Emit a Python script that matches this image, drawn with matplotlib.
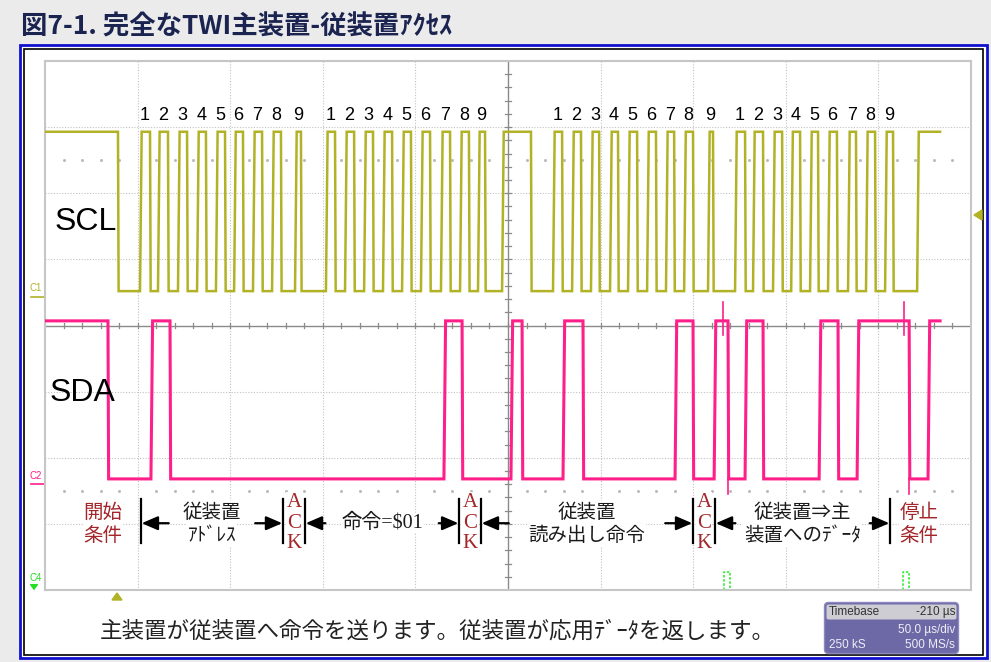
import matplotlib
matplotlib.use("Agg")
import matplotlib.pyplot as plt
from matplotlib.patches import Rectangle, FancyBboxPatch, Polygon

plt.rcParams['font.family'] = ['Noto Sans CJK JP', 'DejaVu Sans']

# ---------------------------------------------------------------- data
# Screen: 10 div x 50 us/div, time in us from left edge of screen
T_END = 483.3                       # last acquired sample shown

# trace levels in divisions (0 = bottom of graticule, 8 = top)
SCL_HI, SCL_LO = 6.93, 4.52
SDA_HI, SDA_LO = 4.07, 1.68

SCL_START_FALL = 39.4               # start condition: SCL falls after SDA

# SCL clock pulses (rise, fall) in us for the four 9-bit frames
scl_rise_addr = [51.3, 61.0, 71.8, 82.1, 92.3, 102.1, 112.3, 122.6, 135.0]
scl_fall_addr = [56.7, 66.4, 76.7, 86.9, 97.2, 106.9, 117.2, 127.4, 138.2]
scl_rise_cmd = [151.7, 162.0, 172.3, 182.5, 192.8, 203.0, 213.8, 224.1, 233.8]
scl_fall_cmd = [156.6, 166.9, 177.1, 187.4, 197.6, 207.9, 218.7, 228.9, 237.6]
scl_restart = (246.8, 262.4)        # SCL high during repeated start
scl_rise_rd = [274.3, 284.6, 294.8, 305.1, 314.8, 325.1, 335.3, 345.1, 358.0]
scl_fall_rd = [279.2, 289.4, 299.2, 309.4, 319.7, 329.9, 339.7, 349.9, 360.7]
scl_rise_data = [372.6, 382.3, 393.1, 402.9, 413.1, 422.8, 433.6, 443.3, 453.6]
scl_fall_data = [378.0, 387.7, 398.0, 407.7, 417.4, 427.6, 437.9, 448.2, 457.9]
SCL_STOP_RISE = 470.9

# SDA edges in us, alternating fall / rise, starting from high
sda_edges = [34.0, 57.2, 67.5, 215.4, 225.2, 251.6, 257.6, 279.7,
             290.5, 340.2, 349.9, 361.3, 368.8, 378.0, 387.7, 418.0,
             428.2, 438.5, 466.6, 476.8]
# short glitches on SDA: (time us, bottom div, top div)
sda_spikes = [(366.1, 3.85, 4.35), (368.9, 1.45, 1.7),
              (463.8, 3.85, 4.35), (466.7, 1.45, 1.7)]

pulse_labels = ['1', '2', '3', '4', '5', '6', '7', '8', '9']

# annotation bar positions (us) and the spans between them
bars = [51.8, 128.5, 140.4, 223.6, 235.4, 349.9, 361.8, 456.3]
spans = [(51.8, 128.5, '従装置', 'ｱﾄﾞﾚｽ', 15.0),
         (140.4, 223.6, '命令=$01', None, 11.0),
         (235.4, 349.9, '従装置', '読み出し命令', 15.0),
         (361.8, 456.3, '従装置⇒主', '装置へのﾃﾞｰﾀ', 11.0)]
ack_spans = [(128.5, 140.4), (223.6, 235.4), (349.9, 361.8)]
start_label = (31.3, '開始', '条件')
stop_label = (471.9, '停止', '条件')

TITLE = '図7-1. 完全なTWI主装置-従装置ｱｸｾｽ'
CAPTION = '主装置が従装置へ命令を送ります。従装置が応用ﾃﾞｰﾀを返します。'
TIMEBASE = ('Timebase', '-210 µs', '50.0 µs/div', '250 kS', '500 MS/s')

# ---------------------------------------------------------------- style
SCL_COLOR = '#b2b226'
SDA_COLOR = '#ff1f8a'
RED_TXT = '#a3262a'
GRID_C = '#c2c2c2'
AXIS_C = '#8a8a8a'

W, H = 991, 662
fig = plt.figure(figsize=(W / 100, H / 100), dpi=100)
fig.patch.set_facecolor('#ebebeb')

# pixel-space layer for frames and screen furniture
ov = fig.add_axes([0, 0, 1, 1], zorder=0)
ov.set_xlim(0, W)
ov.set_ylim(H, 0)
ov.axis('off')

ov.add_patch(Rectangle((20, 45), 967, 613, facecolor='white',
                       edgecolor='#1010d0', lw=2.0))
ov.add_patch(Rectangle((24, 49), 959, 606, facecolor='none',
                       edgecolor='black', lw=1.2))

ov.text(21, 27, TITLE, ha='left', va='center', fontsize=19,
        fontweight='bold', color='#1b2450')

# channel markers
ov.text(36, 288, 'C1', ha='center', va='center', fontsize=7,
        color=SCL_COLOR, family=['Liberation Sans'])
ov.plot([31, 44], [297, 297], color=SCL_COLOR, lw=1.2)
ov.text(36, 476, 'C2', ha='center', va='center', fontsize=7,
        color=SDA_COLOR, family=['Liberation Sans'])
ov.plot([31, 44], [484, 484], color=SDA_COLOR, lw=1.2)
ov.text(36, 578, 'C4', ha='center', va='center', fontsize=7,
        color='#22dd22', family=['Liberation Sans'])
ov.annotate('', xy=(34, 593), xytext=(34, 584),
            arrowprops=dict(arrowstyle='-|>,head_length=0.4,head_width=0.3',
                            color='#22dd22', lw=1.0, mutation_scale=8))

# trigger markers
ov.add_patch(Polygon([[974, 215], [982, 210], [982, 220]], closed=True,
                     color=SCL_COLOR))
ov.add_patch(Polygon([[117, 593], [112, 600], [122, 600]], closed=True,
                     color=SCL_COLOR))

# C4 digital markers
for cx in (727, 906):
    ov.plot([cx - 3, cx - 3, cx + 3, cx + 3], [590, 572, 572, 590],
            color='#33ee33', lw=1.2, ls=(0, (1.5, 1.0)))

ov.text(437, 631, CAPTION, ha='center', va='center', fontsize=16.2,
        color='#222222')

# timebase box
ov.add_patch(FancyBboxPatch((826, 604), 131, 48,
                            boxstyle='round,pad=1.5,rounding_size=4',
                            facecolor='#6d69a7', edgecolor='#8c88c0', lw=1))
ov.add_patch(FancyBboxPatch((827, 605), 129, 14,
                            boxstyle='round,pad=0.5,rounding_size=2',
                            facecolor='#cdcdd3', edgecolor='none'))
tb_font = dict(fontsize=8.5, family=['Liberation Sans', 'DejaVu Sans'])
ov.text(829, 612, TIMEBASE[0], ha='left', va='center', color='#333333', **tb_font)
ov.text(955, 612, TIMEBASE[1], ha='right', va='center', color='#333333', **tb_font)
ov.text(955, 630, TIMEBASE[2], ha='right', va='center', color='#eeeef6', **tb_font)
ov.text(829, 645, TIMEBASE[3], ha='left', va='center', color='#eeeef6', **tb_font)
ov.text(955, 645, TIMEBASE[4], ha='right', va='center', color='#eeeef6', **tb_font)

# ---------------------------------------------------------------- scope screen
gx0, gy0, gx1, gy1 = 45, 61, 971, 590
ax = fig.add_axes([gx0 / W, 1 - gy1 / H, (gx1 - gx0) / W, (gy1 - gy0) / H],
                  zorder=1)
ax.set_facecolor('none')
ax.set_xlim(0, 500)
ax.set_ylim(0, 8)
ax.set_xticks([])
ax.set_yticks([])
for s in ax.spines.values():
    s.set_color('#c6c6c6')
    s.set_linewidth(1.5)

dotted = dict(color=GRID_C, lw=0.8, ls=(0, (1, 1.5)), zorder=1)
for i in range(1, 10):
    if i != 5:
        ax.axvline(50 * i, **dotted)
for j in range(1, 8):
    if j != 4:
        ax.axhline(j, **dotted)
ax.axvline(250, color=AXIS_C, lw=1.0, zorder=1)
ax.axhline(4, color=AXIS_C, lw=1.0, zorder=1)
for k in range(1, 50):
    ax.plot([10 * k, 10 * k], [3.955, 4.045], color=AXIS_C, lw=0.9, zorder=1)
for k in range(1, 40):
    ax.plot([248.4, 251.6], [0.2 * k, 0.2 * k], color=AXIS_C, lw=0.9, zorder=1)
for yrow in (6.5, 1.5):
    xs = [10 * k for k in range(1, 50) if k % 5]
    ax.plot(xs, [yrow] * len(xs), ls='none', marker='s', ms=1.0,
            color='#b8b8b8', zorder=1)


def square_wave(edges, hi, lo, start_high=True, t_end=T_END,
                tr=0.9, tf=0.35):
    xs, ys = [0.0], [hi if start_high else lo]
    high = start_high
    for e in edges:
        if high:
            xs += [e, e + tf]
            ys += [hi, lo]
        else:
            xs += [e, e + tr]
            ys += [lo, hi]
        high = not high
    xs.append(t_end)
    ys.append(hi if high else lo)
    return xs, ys


scl_edges = [SCL_START_FALL]
for r, f in zip(scl_rise_addr + scl_rise_cmd, scl_fall_addr + scl_fall_cmd):
    scl_edges += [r, f]
scl_edges += list(scl_restart)
for r, f in zip(scl_rise_rd + scl_rise_data, scl_fall_rd + scl_fall_data):
    scl_edges += [r, f]
scl_edges.append(SCL_STOP_RISE)

x, y = square_wave(scl_edges, SCL_HI, SCL_LO)
ax.plot(x, y, color=SCL_COLOR, lw=1.8, zorder=3, solid_joinstyle='miter')
x, y = square_wave(sda_edges, SDA_HI, SDA_LO)
ax.plot(x, y, color=SDA_COLOR, lw=2.2, zorder=4, solid_joinstyle='miter')
for t, y0, y1 in sda_spikes:
    ax.plot([t, t], [y0, y1], color=SDA_COLOR, lw=1.2, zorder=4)

# bit numbers above each clock pulse
for rises, falls in ((scl_rise_addr, scl_fall_addr), (scl_rise_cmd, scl_fall_cmd),
                     (scl_rise_rd, scl_fall_rd), (scl_rise_data, scl_fall_data)):
    for lab, r, f in zip(pulse_labels, rises, falls):
        ax.text((r + f) / 2, 7.18, lab, ha='center', va='center', fontsize=13,
                family=['Liberation Sans'], color='black', zorder=5)

ax.text(5.4, 5.57, 'SCL', ha='left', va='center', fontsize=23,
        family=['Liberation Sans'], color='black', zorder=5)
ax.text(2.7, 2.98, 'SDA', ha='left', va='center', fontsize=23,
        family=['Liberation Sans'], color='black', zorder=5)

# protocol annotations
BAR_LO, BAR_HI, ARROW_Y = 0.71, 1.376, 1.01
LINE1, LINE2 = 1.17, 0.82
for b in bars:
    ax.plot([b, b], [BAR_LO, BAR_HI], color='black', lw=1.6, zorder=5)

arrow_style = dict(arrowstyle='-|>,head_length=0.65,head_width=0.28',
                   color='black', lw=1.6, mutation_scale=15,
                   shrinkA=0, shrinkB=0)
white = dict(facecolor='white', edgecolor='none', pad=0.5)
span_family = ['Liberation Serif', 'Noto Sans CJK JP']
for x0, x1, l1, l2, alen in spans:
    ax.annotate('', xy=(x0 + 0.4, ARROW_Y), xytext=(x0 + alen, ARROW_Y),
                arrowprops=arrow_style, zorder=5)
    ax.annotate('', xy=(x1 - 0.4, ARROW_Y), xytext=(x1 - alen, ARROW_Y),
                arrowprops=arrow_style, zorder=5)
    xc = (x0 + x1) / 2
    if l2 is None:
        ax.text(xc, ARROW_Y, l1, ha='center', va='center', fontsize=14.5,
                color='#1a1a1a', zorder=5, bbox=white, family=span_family)
    else:
        ax.text(xc, LINE1, l1, ha='center', va='center', fontsize=14,
                color='#1a1a1a', zorder=5, bbox=white)
        ax.text(xc, LINE2, l2, ha='center', va='center', fontsize=14,
                color='#1a1a1a', zorder=5, bbox=white)

for x0, x1 in ack_spans:
    for ch, yy in zip('ACK', (1.33, 1.01, 0.71)):
        ax.text((x0 + x1) / 2, yy, ch, ha='center', va='center', fontsize=15,
                family=['Liberation Serif'], color=RED_TXT, zorder=5,
                bbox=white)

for xc, l1, l2 in (start_label, stop_label):
    ax.text(xc, LINE1, l1, ha='center', va='center', fontsize=14,
            color=RED_TXT, zorder=5, bbox=white)
    ax.text(xc, LINE2, l2, ha='center', va='center', fontsize=14,
            color=RED_TXT, zorder=5, bbox=white)

fig.savefig('out.png', dpi=100, facecolor=fig.get_facecolor())
